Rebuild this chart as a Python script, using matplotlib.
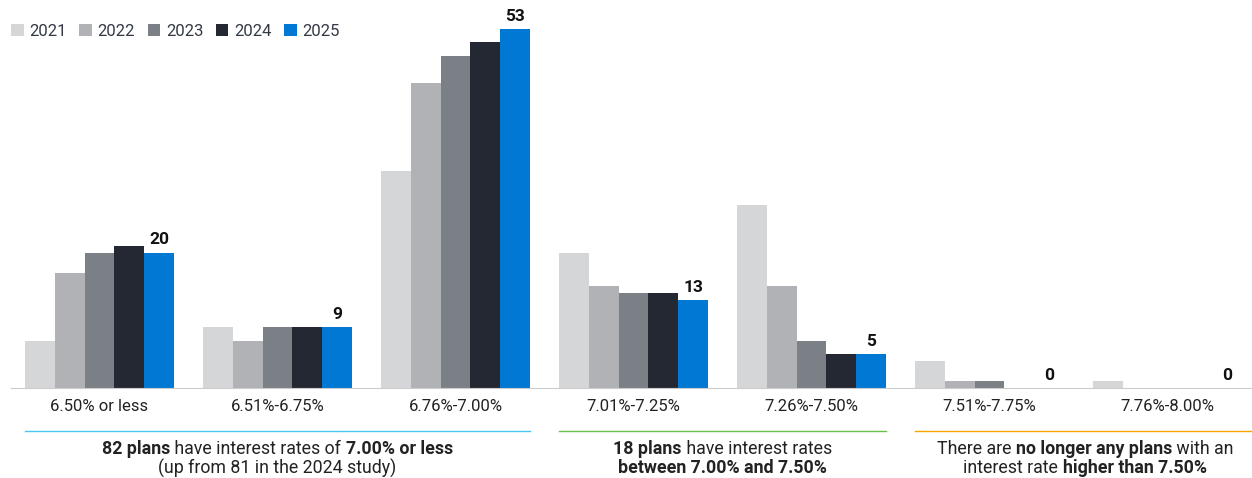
import matplotlib
matplotlib.use("Agg")
import matplotlib.pyplot as plt
import numpy as np

plt.rcParams['font.family'] = ['Roboto', 'DejaVu Sans']

categories = ["6.50% or less", "6.51%-6.75%", "6.76%-7.00%", "7.01%-7.25%",
              "7.26%-7.50%", "7.51%-7.75%", "7.76%-8.00%"]
years = ["2021", "2022", "2023", "2024", "2025"]
v2021 = [7, 9, 32, 20, 27, 4, 1]
v2022 = [17, 7, 45, 15, 15, 1, 0]
v2023 = [20, 9, 49, 14, 7, 1, 0]
v2024 = [21, 9, 51, 14, 5, 0, 0]
v2025 = [20, 9, 53, 13, 5, 0, 0]
series = [v2021, v2022, v2023, v2024, v2025]
colors = ["#d5d6d8", "#b0b2b5", "#7b7f86", "#232833", "#0078d4"]

notes = [
    {"range": (0, 2), "color": "#4cc3f5",
     "lines": [[("82 plans", True), (" have interest rates of ", False), ("7.00% or less", True)],
               [("(up from 81 in the 2024 study)", False)]]},
    {"range": (3, 4), "color": "#6abf4b",
     "lines": [[("18 plans", True), (" have interest rates", False)],
               [("between 7.00% and 7.50%", True)]]},
    {"range": (5, 6), "color": "#f7a600",
     "lines": [[("There are ", False), ("no longer any plans", True), (" with an", False)],
               [("interest rate ", False), ("higher than 7.50%", True)]]},
]

W, H = 1252, 478
fig = plt.figure(figsize=(W / 100, H / 100), dpi=100)
unit = 178.0
left_px = 99.5 - 0.5 * unit
ax = fig.add_axes([left_px / W, 1 - 388 / H, (W - left_px) / W, 372.6 / H])
ax.set_xlim(-0.5, -0.5 + (W - left_px) / unit)
ax.set_ylim(0, 55)

x = np.arange(len(categories))
bw = 0.168
for i, (vals, c, yr) in enumerate(zip(series, colors, years)):
    ax.bar(x + (i - 2) * bw, vals, width=bw, color=c, label=yr, linewidth=0)

for xi, v in zip(x, v2025):
    ax.text(xi + 2 * bw, v + 0.8, str(v), ha="center", va="bottom",
            fontsize=12.5, fontweight="bold", color="#111111")

for s in ["top", "right", "left"]:
    ax.spines[s].set_visible(False)
ax.spines["bottom"].set_color("#cccccc")
ax.set_yticks([])
ax.set_xticks(x)
ax.set_xticklabels(categories, fontsize=12, color="#222222")
ax.tick_params(axis="x", length=0, pad=8)

leg = fig.legend(loc="upper left", bbox_to_anchor=(-4 / W, 1 - 9 / H), ncol=5,
                 frameon=False, fontsize=12, handlelength=0.75, handleheight=0.75,
                 handletextpad=0.35, columnspacing=0.75, labelcolor="#333a45")

fig.canvas.draw()
renderer = fig.canvas.get_renderer()

for note in notes:
    a, b = note["range"]
    x0 = a - 2.5 * bw
    x1 = b + 2.5 * bw
    if b == 6:
        x1 = ax.get_xlim()[1]
    yline = 1 - 431 / H
    trans = matplotlib.transforms.blended_transform_factory(ax.transData, fig.transFigure)
    fig.add_artist(plt.Line2D([x0, x1], [yline, yline], transform=trans,
                              color=note["color"], linewidth=1.0))
    cx_disp = ax.transData.transform(((x0 + x1) / 2, 0))[0]
    if b == 6:
        cx_disp = 1085
    for li, line in enumerate(note["lines"]):
        ypix = 448.5 + li * 19.5
        pieces = []
        total = 0
        for txt, bold in line:
            t = fig.text(0, 1 - ypix / H, txt, fontsize=12.8,
                         fontweight="bold" if bold else "normal",
                         color="#222222", ha="left", va="center")
            w = t.get_window_extent(renderer).width
            pieces.append((t, w))
            total += w
        start = cx_disp - total / 2
        for t, w in pieces:
            t.set_x(start / W)
            start += w

fig.savefig("out.png", dpi=100)
